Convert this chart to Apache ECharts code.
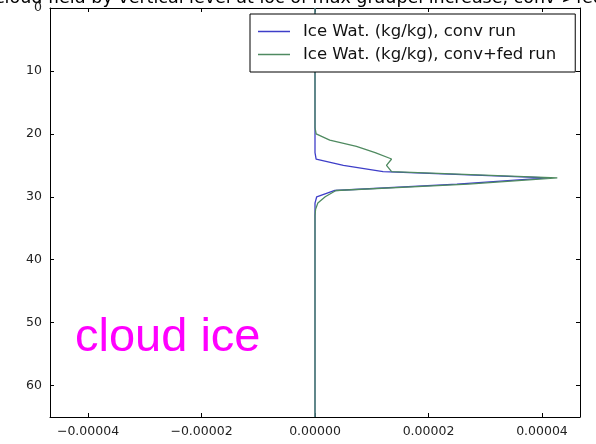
<!DOCTYPE html>
<html>
<head>
<meta charset="utf-8">
<script src="https://cdn.jsdelivr.net/npm/echarts@6/dist/echarts.min.js"></script>
<style>html,body{margin:0;padding:0;background:#fff;}#c{width:596px;height:444px;}</style>
</head>
<body>
<div id="c"></div>
<script>
// vertical levels (y)
var levels = [0,1,2,3,4,5,6,7,8,9,10,11,12,13,14,15,16,17,18,19,20,21,22,23,24,25,26,27,28,29,30,31,32,33,34,35,36,37,38,39,40,41,42,43,44,45,46,47,48,49,50,51,52,53,54,55,56,57,58,59,60,61,62,63,64,65];
// Ice water (kg/kg), conv run
var convRun = [0,0,0,0,0,0,0,0,0,0, 0,0,0,0,0,0,0,0,0,0, 0,0,0,0,2e-7,5e-6,1.2e-5,4.1e-5,2.5e-5,3.5e-6, 3e-7,0,0,0,0,0,0,0,0,0, 0,0,0,0,0,0,0,0,0,0, 0,0,0,0,0,0,0,0,0,0, 0,0,0,0,0,0];
// Ice water (kg/kg), conv+fed run
var convFedRun = [0,0,0,0,0,0,0,0,0,0, 0,0,0,0,0,0,0,0,0,0, 2e-7,2.6e-6,7.3e-6,1.06e-5,1.35e-5,1.26e-5,1.35e-5,4.27e-5,2.7e-5,3.7e-6, 1.8e-6,5e-7,1e-7,0,0,0,0,0,0,0, 0,0,0,0,0,0,0,0,0,0, 0,0,0,0,0,0,0,0,0,0, 0,0,0,0,0,0];
var xTicks = [-0.00004,-0.00002,0,0.00002,0.00004];
var yTicks = [0,10,20,30,40,50,60];
var seriesNames = ['Ice Wat. (kg/kg), conv run','Ice Wat. (kg/kg), conv+fed run'];
var titleText = 'cloud field by vertical level at loc of max graupel increase, conv->fed run';
var annotation = 'cloud ice';

var chart = echarts.init(document.getElementById('c'), null, {renderer:'canvas'});
var font = 'DejaVu Sans';
function fmtX(v){ var s = Math.abs(v).toFixed(5); return (v < -1e-12 ? '\u2212' : '') + s; }
function pairs(arr){ return levels.map(function(l,i){ return [arr[i], l]; }); }
var xMin = -0.0000467, xMax = 0.0000467;
function xAxisDef(pos, showLabel){
  return {type:'value', position:pos, min:xMin, max:xMax, splitLine:{show:false},
    axisLine:{show:true, onZero:false, lineStyle:{color:'#000', width:1}},
    axisTick:{show:true, inside:true, length:4, customValues:xTicks, lineStyle:{color:'#000'}},
    axisLabel:{show:showLabel, customValues:xTicks, formatter:fmtX, color:'#222', fontSize:12.5, fontFamily:font, margin:8}};
}
function yAxisDef(pos, showLabel){
  return {type:'value', position:pos, min:0, max:65, inverse:true, splitLine:{show:false},
    axisLine:{show:true, onZero:false, lineStyle:{color:'#000', width:1}},
    axisTick:{show:true, inside:true, length:4, customValues:yTicks, lineStyle:{color:'#000'}},
    axisLabel:{show:showLabel, customValues:yTicks, color:'#222', fontSize:12.5, fontFamily:font, margin:8}};
}

chart.setOption({
  animation:false,
  backgroundColor:'#fff',
  grid:{left:50, right:16, top:8, bottom:27, show:false, containLabel:false, outerBoundsMode:'none'},
  xAxis:[xAxisDef('bottom', true), xAxisDef('top', false)],
  yAxis:[yAxisDef('left', true), yAxisDef('right', false)],
  legend:{
    orient:'vertical', left:250, top:14, padding:[9,19,9,8], itemGap:6,
    borderColor:'#000', borderWidth:1, backgroundColor:'#fff',
    icon:'rect', itemWidth:32, itemHeight:1.5,
    textStyle:{fontFamily:font, fontSize:16.5, color:'#111', padding:[0,0,0,8]},
    data:seriesNames
  },
  series:[
    {name:seriesNames[0], type:'line', xAxisIndex:0, yAxisIndex:0, showSymbol:false, symbol:'none',
     lineStyle:{color:'#3e3ec8', width:1.3}, itemStyle:{color:'#3e3ec8'}, data:pairs(convRun), z:2},
    {name:seriesNames[1], type:'line', xAxisIndex:0, yAxisIndex:0, showSymbol:false, symbol:'none',
     lineStyle:{color:'#4f8a60', width:1.3}, itemStyle:{color:'#4f8a60'}, data:pairs(convFedRun), z:3}
  ],
  graphic:[
    {type:'text', left:-5, top:-11, z:10, style:{text:titleText, font:'17.5px "DejaVu Sans"', fill:'#000'}},
    {type:'text', left:75, top:315, z:10, style:{text:annotation, font:'47px "Liberation Sans"', fill:'#ff00ff'}}
  ]
});
</script>
</body>
</html>
